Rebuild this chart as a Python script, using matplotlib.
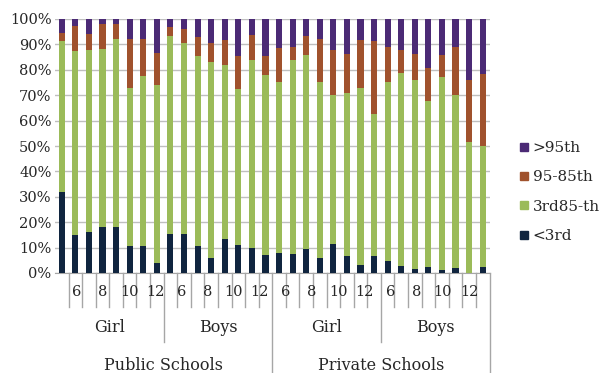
import matplotlib
matplotlib.use("Agg")
import matplotlib.pyplot as plt
from matplotlib.lines import Line2D
from matplotlib.ticker import PercentFormatter
import numpy as np

# categories
schools = ["Public Schools", "Private Schools"]
genders = ["Girl", "Boys"]
ages = [5, 6, 7, 8, 9, 10, 11, 12]
shown_ages = ["6", "8", "10", "12"]

# percent of children in each class, one value per bar (school > gender > age)
below_3rd = [31.8, 14.8, 16.1, 18.3, 18.0, 10.6, 10.6, 3.8,
             15.2, 15.2, 10.6, 5.9, 13.2, 10.9, 9.8, 7.2,
             7.9, 7.6, 9.6, 5.9, 11.3, 6.8, 3.1, 6.8,
             4.8, 2.8, 1.6, 2.5, 1.0, 1.8, 0.0, 2.5]
p3_85 = [59.7, 72.5, 71.7, 69.9, 74.0, 62.4, 67.1, 70.2,
         78.0, 75.5, 75.0, 77.1, 68.7, 61.4, 74.1, 70.7,
         67.2, 76.3, 76.4, 69.2, 58.9, 64.0, 69.6, 55.8,
         70.3, 76.0, 74.5, 65.1, 76.1, 68.1, 51.4, 47.6]
p85_95 = [3.1, 9.8, 6.4, 9.8, 6.0, 19.3, 14.6, 12.5,
          3.5, 5.2, 7.3, 7.7, 9.8, 13.0, 9.8, 7.7,
          13.5, 5.0, 7.3, 17.2, 17.6, 15.4, 19.2, 28.9,
          13.8, 9.0, 10.1, 13.1, 8.7, 19.0, 24.7, 28.3]
above_95 = [5.4, 2.9, 5.8, 2.0, 2.0, 7.7, 7.7, 13.5,
            3.3, 4.1, 7.1, 9.3, 8.3, 14.7, 6.3, 14.4,
            11.4, 11.1, 6.7, 7.7, 12.2, 13.8, 8.1, 8.5,
            11.1, 12.2, 13.8, 19.3, 14.2, 11.1, 23.9, 21.6]

series = [("<3rd", below_3rd, "#10253F"),
          ("3rd85-th", p3_85, "#9BBB59"),
          ("95-85th", p85_95, "#A0522D"),
          (">95th", above_95, "#4B2A75")]

plt.rcParams["font.family"] = "DejaVu Serif"
plt.rcParams["font.size"] = 10.5
text_color = "#262626"
line_color = "#A6A6A6"
word_size = 11.5

fig = plt.figure(figsize=(6.02, 3.73), dpi=100)
ax = fig.add_axes([55 / 602, 100 / 373, 434.5 / 602, 254 / 373])

n_per_group = len(ages)
n_bars = len(schools) * len(genders) * n_per_group
x = np.arange(n_bars)

bottom = np.zeros(n_bars)
for name, vals, color in series:
    vals = np.array(vals)
    ax.bar(x, vals, width=0.45, bottom=bottom, color=color, zorder=3, label=name)
    bottom += vals

ax.set_xlim(-0.5, n_bars - 0.5)
ax.set_ylim(0, 100)
ax.set_yticks(np.arange(0, 101, 10))
ax.yaxis.set_major_formatter(PercentFormatter(decimals=0))
ax.yaxis.grid(True, color="#BFBFBF", lw=1, zorder=0)
ax.tick_params(axis="y", length=0, pad=2.5, colors=text_color)
ax.set_xticks([])
for side in ["left", "right", "top"]:
    ax.spines[side].set_visible(False)
ax.spines["bottom"].set_color(line_color)

# multi-level category axis
trans = ax.get_xaxis_transform()
h = 254.0
for b in np.arange(0.5, n_bars, 1.0):
    idx = int(b + 0.5)
    if idx % (2 * n_per_group) == 0:
        depth = 100 / h
    elif idx % n_per_group == 0:
        depth = 69 / h
    else:
        depth = 34 / h
    ax.plot([b, b], [0, -depth], transform=trans, color=line_color, lw=1, clip_on=False)

# age labels, every other one, as spaced in the source
n_labels = len(shown_ages) * len(schools) * len(genders)
label_pos = np.linspace(1.1, 30.0, n_labels)
for k, pos in enumerate(label_pos):
    ax.text(pos, -19 / h, shown_ages[k % len(shown_ages)], transform=trans,
            ha="center", va="center", color=text_color, fontsize=10.5)

for s, school in enumerate(schools):
    for g, gender in enumerate(genders):
        start = (s * len(genders) + g) * n_per_group
        ax.text(start + (n_per_group - 1) / 2, -54 / h, gender, transform=trans,
                ha="center", va="center", color=text_color, fontsize=word_size)
    start = s * len(genders) * n_per_group
    ax.text(start + (len(genders) * n_per_group - 1) / 2, -92 / h, school,
            transform=trans, ha="center", va="center", color=text_color,
            fontsize=word_size)

handles = [Line2D([], [], marker="s", ls="", color=c, markersize=6)
           for _, _, c in series][::-1]
labels = [name for name, _, _ in series][::-1]
fig.legend(handles, labels, loc="center left", bbox_to_anchor=(519 / 602, 1 - 192 / 373),
           frameon=False, handlelength=0.6, handletextpad=0.3, labelspacing=1.0,
           borderpad=0, borderaxespad=0, labelcolor=text_color, fontsize=11)

fig.savefig("out.png", dpi=100)
